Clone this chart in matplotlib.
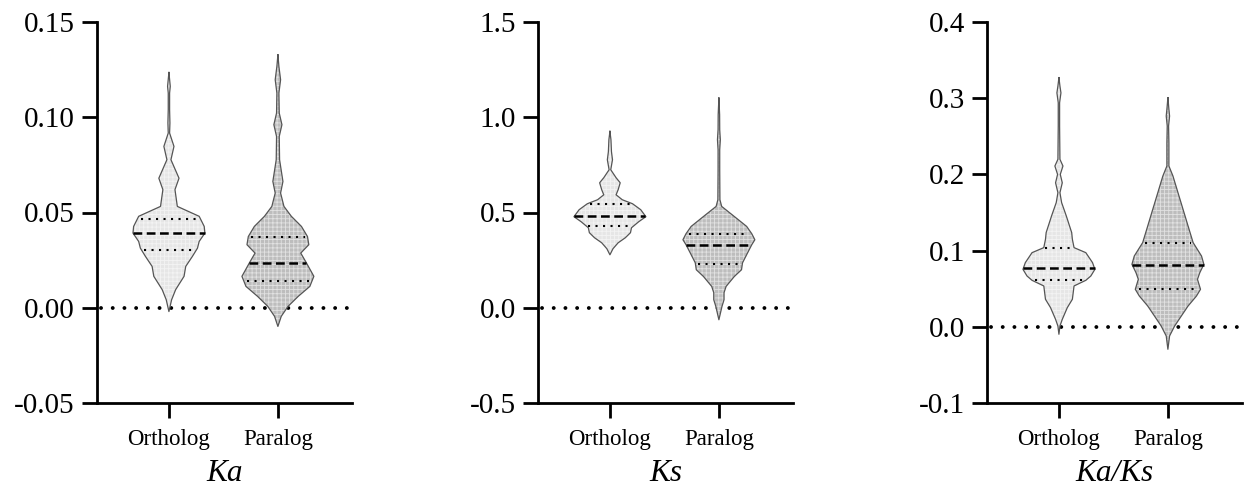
import numpy as np
import matplotlib
matplotlib.use("Agg")
from matplotlib import pyplot as plt

plt.rcParams['font.family'] = ['Liberation Serif', 'DejaVu Serif']
plt.rcParams['hatch.linewidth'] = 0.6

groups = ["Ortholog", "Paralog"]
face_colors = ["#e6e6e6", "#bdbdbd"]

# violin outlines: (value, relative half width)
ka_orth_y = [0.1235, 0.1162, 0.1127, 0.104, 0.097, 0.0917, 0.0847, 0.0777, 0.068, 0.062, 0.0532,
             0.048, 0.0427, 0.0392, 0.0348, 0.0313, 0.027, 0.0217, 0.0165, 0.0095, 0.0042, -0.002]
ka_orth_w = [0, 4, 2, 2, 3, 2, 15, 6, 30, 18, 25, 90, 105, 107, 90, 85, 70, 50, 45, 20, 8, 0]
ka_para_y = [0.1328, 0.1267, 0.1197, 0.1127, 0.1022, 0.0961, 0.0899, 0.0777, 0.0663, 0.0602, 0.0532,
             0.048, 0.0427, 0.0374, 0.0331, 0.0287, 0.0235, 0.0165, 0.0112, 0.0059, 0.0007, -0.0045, -0.0098]
ka_para_w = [0, 3, 8, 3, 4, 12, 4, 5, 15, 8, 18, 40, 70, 88, 92, 68, 85, 107, 95, 60, 30, 10, 0]

ks_orth_y = [0.926, 0.882, 0.819, 0.777, 0.7245, 0.6825, 0.656, 0.6195, 0.593, 0.567, 0.546,
             0.5145, 0.478, 0.4515, 0.42, 0.394, 0.3675, 0.341, 0.31, 0.278]
ks_orth_w = [0, 1, 1.5, 2.5, 0.8, 6, 10, 8, 6, 12, 22, 30, 35, 28, 21, 20, 15, 8, 3, 0]
ks_para_y = [1.101, 1.013, 0.9345, 0.882, 0.8295, 0.7245, 0.567, 0.532, 0.479, 0.427, 0.3885, 0.357,
             0.331, 0.289, 0.236, 0.1995, 0.164, 0.112, 0.079, 0.042, 0.007, -0.028, -0.063]
ks_para_w = [0, 0.7, 0.8, 1.4, 0.8, 0.8, 1, 2.7, 15, 27, 32, 35, 32, 28, 23, 22, 15, 7, 5, 5, 3, 1.5, 0]

kaks_orth_y = [0.327, 0.316, 0.307, 0.294, 0.2635, 0.2198, 0.211, 0.200, 0.189, 0.176, 0.163, 0.1454,
               0.1236, 0.1148, 0.1039, 0.0973, 0.0842, 0.0754, 0.0667, 0.061, 0.0536, 0.0361, 0.0252,
               0.0098, 0.001, -0.0098]
kaks_orth_w = [0, 3, 6, 2, 2, 3, 12, 4, 10, 3, 8, 22, 38, 40, 45, 80, 100, 107, 95, 80, 45, 40, 25, 10, 3, 0]
kaks_para_y = [0.3007, 0.2854, 0.2766, 0.2635, 0.2417, 0.211, 0.1979, 0.176, 0.1542, 0.1323, 0.1105,
               0.0929, 0.082, 0.0711, 0.0623, 0.0492, 0.0404, 0.0273, 0.0142, 0.001, -0.012, -0.0295]
kaks_para_w = [0, 3, 5, 2, 3, 3, 15, 30, 45, 60, 75, 100, 107, 95, 88, 97, 85, 60, 40, 20, 5, 0]

# quartiles: (Q1, median, Q3)
ka_quart = [(0.0301, 0.0394, 0.0467), (0.0143, 0.0235, 0.0371)]
ks_quart = [(0.430, 0.481, 0.546), (0.229, 0.331, 0.3885)]
kaks_quart = [(0.061, 0.0768, 0.1039), (0.0492, 0.0811, 0.1096)]

panels = [
    ("Ka", [(ka_orth_y, ka_orth_w), (ka_para_y, ka_para_w)], ka_quart,
     (-0.05, 0.15), [-0.05, 0.00, 0.05, 0.10, 0.15], "%.2f"),
    ("Ks", [(ks_orth_y, ks_orth_w), (ks_para_y, ks_para_w)], ks_quart,
     (-0.5, 1.5), [-0.5, 0.0, 0.5, 1.0, 1.5], "%.1f"),
    ("Ka/Ks", [(kaks_orth_y, kaks_orth_w), (kaks_para_y, kaks_para_w)], kaks_quart,
     (-0.1, 0.4), [-0.1, 0.0, 0.1, 0.2, 0.3, 0.4], "%.1f"),
]

W, H = 1247, 491
fig = plt.figure(figsize=(W / 100, H / 100), dpi=100)
lefts = [97, 538, 987]
ax_w = 255
ax_bottom, ax_top = 403, 22
half_max = 0.33

for left, (name, shapes, quarts, ylim, yticks, fmt) in zip(lefts, panels):
    ax = fig.add_axes([left / W, 1 - ax_bottom / H, ax_w / W, (ax_bottom - ax_top) / H])
    ax.set_xlim(-0.66, 1.68)
    ax.set_ylim(*ylim)

    ax.plot([-0.62, 1.68], [0, 0], color="black", lw=2.8,
            linestyle=(0, (0.01, 3.0)), dash_capstyle="round", zorder=1)

    for i, ((ys, ws), q, fc) in enumerate(zip(shapes, quarts, face_colors)):
        ys = np.array(ys)
        ws = np.array(ws, dtype=float)
        hw = ws / ws.max() * half_max
        ax.fill_betweenx(ys, i - hw, i + hw, facecolor=fc,
                         edgecolor=(1, 1, 1, 0.55), hatch="++++", linewidth=0, zorder=2)
        ax.plot(np.concatenate([i - hw, (i + hw)[::-1], [i - hw[0]]]),
                np.concatenate([ys, ys[::-1], [ys[0]]]),
                color="#555555", lw=0.9, zorder=3)
        order = np.argsort(ys)
        for k, val in enumerate(q):
            w = np.interp(val, ys[order], hw[order])
            if k == 1:
                ax.plot([i - w, i + w], [val, val], color="black", lw=1.8,
                        linestyle=(0, (3.5, 1.8)), zorder=4)
            else:
                ax.plot([i - w * 0.9, i + w * 0.9], [val, val], color="black", lw=1.5,
                        linestyle=(0, (1, 2.6)), zorder=4)

    for s in ["top", "right"]:
        ax.spines[s].set_visible(False)
    for s in ["left", "bottom"]:
        ax.spines[s].set_linewidth(2)
    ax.set_yticks(yticks)
    ax.set_yticklabels([fmt % v for v in yticks])
    ax.set_xticks([0, 1])
    ax.set_xticklabels(groups, fontsize=16.5)
    ax.tick_params(axis="y", length=11, width=2, labelsize=21, pad=5)
    ax.tick_params(axis="x", length=11, width=2, pad=8)
    ax.set_xlabel(name, fontsize=22.5, fontstyle="italic", labelpad=6)

fig.savefig("out.png", dpi=100)
